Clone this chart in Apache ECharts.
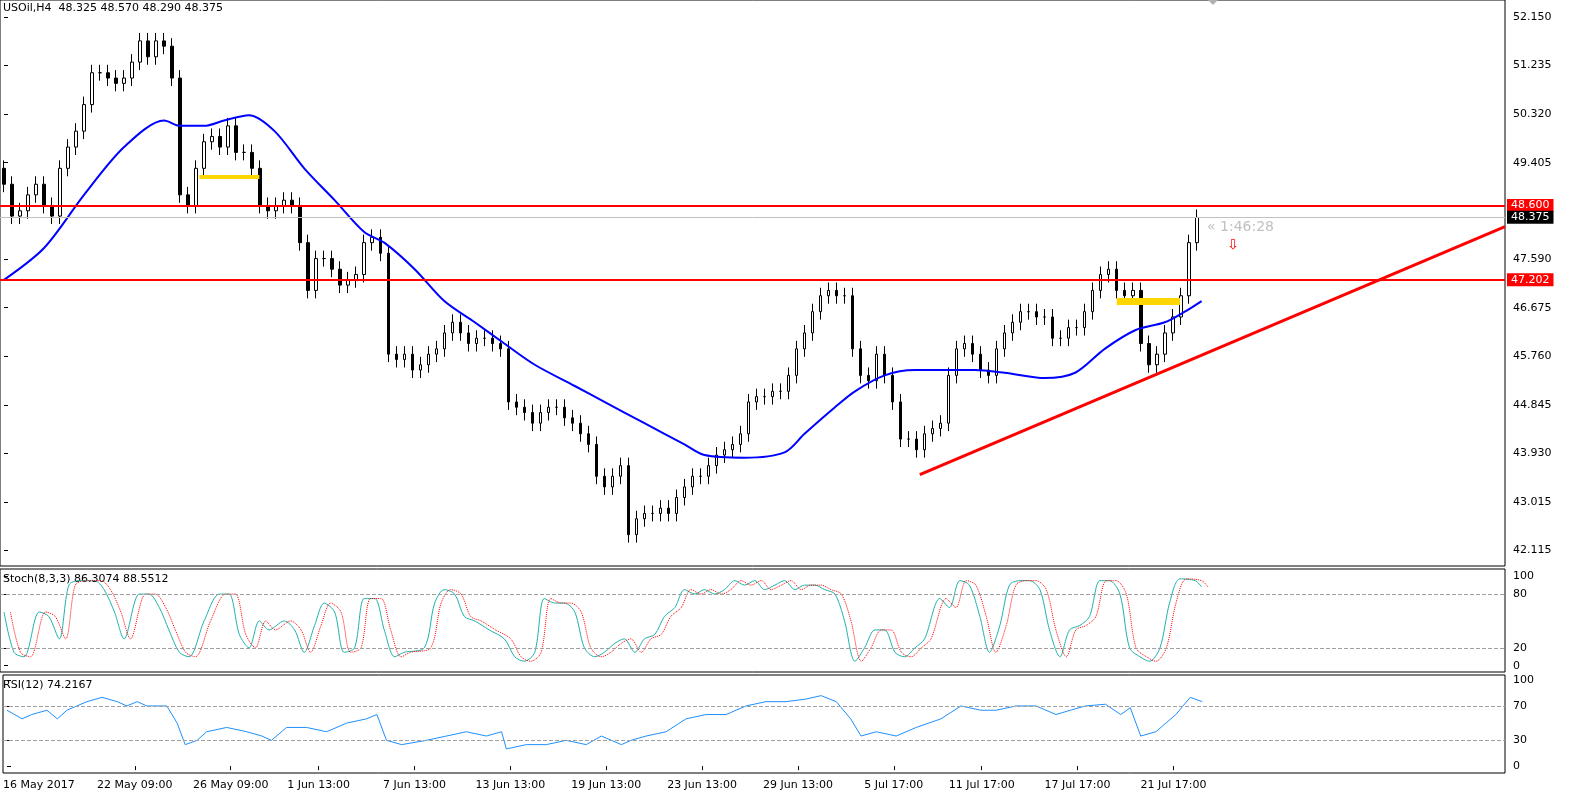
<!DOCTYPE html>
<html><head><meta charset="utf-8">
<script src="https://cdn.jsdelivr.net/npm/echarts@6/dist/echarts.min.js"></script>
<style>html,body{margin:0;padding:0;background:#fff}#c{width:1588px;height:806px}</style>
</head><body><div id="c"></div>
<script>
// closes read bar by bar (H4), last bar is current
var closes = [49.0,48.4,48.5,48.8,49.0,48.6,48.4,49.3,49.7,50.0,50.5,51.1,51.1,51.0,50.9,51.0,51.3,51.7,51.4,51.7,
  51.6,51.0,48.8,48.6,49.3,49.8,49.9,49.7,50.1,49.6,49.6,49.3,48.6,48.5,48.6,48.7,48.6,47.9,47.0,47.6,
  47.6,47.4,47.1,47.2,47.3,47.9,48.0,47.7,45.8,45.7,45.8,45.5,45.6,45.8,45.9,46.2,46.4,46.2,46.0,46.1,
  46.1,46.0,45.9,44.9,44.8,44.7,44.5,44.7,44.8,44.8,44.6,44.5,44.3,44.1,43.5,43.3,43.5,43.7,42.4,42.7,
  42.8,42.8,42.9,42.8,43.1,43.3,43.5,43.5,43.7,43.9,44.0,44.1,44.3,44.9,45.0,45.0,45.1,45.1,45.4,45.9,
  46.2,46.6,46.9,47.0,46.9,46.9,45.9,45.4,45.3,45.8,45.4,44.9,44.2,44.2,44.0,44.3,44.4,44.5,45.4,45.9,
  46.0,45.8,45.5,45.4,45.9,46.2,46.4,46.6,46.6,46.5,46.5,46.1,46.1,46.3,46.3,46.6,47.0,47.3,47.4,47.0,
  46.9,47.0,46.0,45.6,45.8,46.2,46.5,46.9,47.9,48.375];
var firstOpen = 49.3;
var wick = 0.15;

// moving average, [bar, price]
var maLine = [[0,47.2],[5,47.8],[10,48.8],[15,49.7],[20,50.2],[22,50.1],[25,50.1],[27.5,50.2],[30.6,50.3],[33.8,50.0],
  [37.5,49.3],[41.3,48.7],[45,48.1],[47.5,47.9],[51.3,47.4],[55,46.8],[58.8,46.4],[62.5,46.0],[66.3,45.6],[71.3,45.2],
  [75,44.9],[80,44.5],[85,44.1],[87.5,43.9],[92.5,43.85],[97.5,43.95],[100,44.3],[103.8,44.8],[106.3,45.1],[110,45.4],
  [113.8,45.5],[117.5,45.5],[121.3,45.5],[125,45.45],[130,45.35],[133.8,45.45],[137.5,45.9],[141.3,46.25],[145,46.4],
  [147.5,46.6],[149.6,46.8]];

var stochK = [[0,60],[1.25,15],[2.5,10],[4.4,60],[5.6,55],[6.9,30],[8.1,90],[9.4,95],[11.3,95],[12.5,85],[13.8,60],[15,30],
  [16.9,80],[18.1,80],[19.4,65],[20.6,40],[21.9,15],[23.1,10],[25,50],[26.9,80],[28.1,80],[29.4,35],[30.6,20],[31.9,50],
  [33.1,40],[35,50],[36.3,40],[37.5,15],[38.8,45],[40,70],[41.3,60],[42.5,15],[43.8,20],[45,75],[46.3,75],[47.5,40],
  [48.8,10],[50,15],[52.5,20],[53.8,70],[55,85],[56.3,80],[57.5,55],[58.8,50],[60.6,40],[62.5,30],[63.8,10],[65,5],
  [66.3,15],[67.5,75],[68.8,70],[70,70],[71.3,60],[72.5,20],[73.8,10],[75,15],[76.3,25],[77.5,30],[78.8,15],[80,30],
  [81.3,35],[82.5,55],[83.8,65],[85,85],[86.3,80],[87.5,85],[88.8,80],[90,85],[91.3,95],[92.5,90],[93.8,95],[95,85],
  [96.3,90],[97.5,95],[98.8,85],[100,90],[101.3,90],[102.5,85],[103.8,80],[105,50],[106.3,5],[107.5,20],[108.8,40],
  [110,40],[111.3,15],[112.5,10],[113.8,20],[115,30],[116.9,75],[118.1,65],[119.4,95],[120.6,90],[121.9,55],[123.1,15],
  [124.4,45],[125.6,90],[126.9,95],[128.1,95],[129.4,85],[130.6,40],[131.9,10],[133.1,40],[134.4,45],[135.6,55],
  [136.9,95],[138.1,95],[139.4,80],[140.6,20],[141.9,10],[143.1,5],[144.4,20],[145.6,70],[146.9,97],[148.8,95],[149.6,88]];

var rsi = [[0,65],[1.9,55],[3.1,60],[5,65],[6.3,55],[7.5,65],[10,75],[11.9,80],[13.8,75],[15,70],[16.3,75],[17.5,70],
  [20,70],[21.3,50],[22.3,25],[23.8,30],[25,40],[27.5,45],[30,40],[31.9,35],[33.1,30],[35,45],[37.5,45],[40,40],
  [42.5,50],[45,55],[46.3,60],[47.5,30],[49.4,25],[52.5,30],[55,35],[57.5,40],[60,35],[61.9,40],[62.5,20],[65,25],
  [67.5,25],[70,30],[72.5,25],[74.4,35],[76.9,25],[78.1,30],[80,35],[82.5,40],[85,55],[87.5,60],[90,60],[92.5,70],
  [95,75],[97.5,75],[100,78],[101.9,82],[103.8,75],[105.6,55],[106.9,35],[108.8,40],[111.3,35],[113.8,45],[116.9,55],
  [119.4,70],[121.9,65],[123.8,65],[126.3,70],[128.8,70],[131.3,60],[133.1,65],[135,70],[137.5,72],[139.4,60],
  [140.6,68],[141.9,35],[143.8,40],[146.3,60],[148.1,80],[149.6,75]];

var priceTicks = [52.150,51.235,50.320,49.405,47.590,46.675,45.760,44.845,43.930,43.015,42.115];
var dateTicks = [-0.5,16,28,39,51,63,75,87,99,111,122,134,146];
var dateLabels = ['16 May 2017','22 May 09:00','26 May 09:00','1 Jun 13:00','7 Jun 13:00','13 Jun 13:00',
  '19 Jun 13:00','23 Jun 13:00','29 Jun 13:00','5 Jul 17:00','11 Jul 17:00','17 Jul 17:00','21 Jul 17:00'];
var levels = [48.600, 47.202];
var currentPrice = 48.375;
var trendLine = [[114.4,43.53],[187.5,48.2]];
var zones = [[24.4,31.9,49.15,4],[139,146.9,46.8,7]];

var slots = 188;
var cats = [];
for (var i = 0; i < slots; i++) cats.push(String(i));
var candles = closes.map(function(c, i) {
  var o = i === 0 ? firstOpen : closes[i-1];
  return [o, c, Math.min(o,c) - wick, Math.max(o,c) + wick];
});
var stochD = stochK.map(function(p){ return [p[0] + 0.8, p[1]]; });

var font = 'DejaVu Sans';
var txt = {fontFamily: font, fontSize: 11, color: '#000'};
var vx = function(grid, show) {
  return {type:'value', gridIndex:grid, min:-0.5, max:slots-0.5, show:!!show,
    splitLine:{show:false}, axisLine:{show:false}, axisTick:{show:false}, axisLabel:{show:false}};
};
var rightAxis = function(grid, min, max, vals) {
  return {type:'value', gridIndex:grid, position:'right', min:min, max:max,
    axisLine:{show:false}, splitLine:{show:false},
    axisTick:{show:true, length:4, lineStyle:{color:'#000'}, customValues:vals},
    axisLabel:Object.assign({customValues:vals, margin:8,
      formatter:function(v){ return grid === 0 ? v.toFixed(3) : String(Math.round(v)); }}, txt)};
};

var mainLines = levels.map(function(l){
  return {yAxis:l, lineStyle:{color:'#ff0000', width:2, type:'solid'},
    label:{show:true, position:'end', formatter:l.toFixed(3), backgroundColor:'#ff0000', color:'#fff',
      fontFamily:font, fontSize:11, padding:[1,4], distance:2}};
});
mainLines.push({yAxis:currentPrice, lineStyle:{color:'#c0c0c0', width:1, type:'solid'},
  label:{show:true, position:'end', formatter:currentPrice.toFixed(3), backgroundColor:'#000', color:'#fff',
    fontFamily:font, fontSize:11, padding:[1,4], distance:2}});

var overlayLines = [
  [{coord:trendLine[0]}, {coord:trendLine[1], lineStyle:{color:'#ff0000', width:3, type:'solid'}}],
  [{coord:[177.5,48.6]}, {coord:[187.5,48.6], lineStyle:{color:'#ff0000', width:1, type:'dotted'}}]
];
zones.forEach(function(z){
  overlayLines.push([{coord:[z[0],z[2]]}, {coord:[z[1],z[2]], lineStyle:{color:'#ffd700', width:z[3], type:'solid'}}]);
});

var dashGuide = function(vals){
  return {symbol:'none', silent:true, label:{show:false},
    lineStyle:{color:'#a0a0a0', type:'dashed', width:1},
    data:vals.map(function(v){ return {yAxis:v}; })};
};

var option = {
  animation:false,
  backgroundColor:'#fff',
  grid:[
    {left:0, right:83, top:0, height:566, show:true, borderColor:'#000', borderWidth:1},
    {left:0, right:83, top:569, height:103, show:true, borderColor:'#000', borderWidth:1},
    {left:0, right:83, top:675, height:98, show:true, borderColor:'#000', borderWidth:1}
  ],
  xAxis:[
    {type:'category', gridIndex:0, data:cats, show:false, boundaryGap:true},
    vx(0), vx(1),
    {type:'value', gridIndex:2, min:-0.5, max:slots-0.5, splitLine:{show:false},
      axisLine:{show:false},
      axisTick:{show:true, length:4, lineStyle:{color:'#000'}, customValues:dateTicks.slice(1)},
      axisLabel:Object.assign({customValues:dateTicks, margin:7, alignMinLabel:'left',
        formatter:function(v){ var k = dateTicks.indexOf(v); return k >= 0 ? dateLabels[k] : ''; }}, txt)}
  ],
  yAxis:[
    rightAxis(0, 41.81, 52.47, priceTicks),
    rightAxis(1, -7, 108, [100,80,20,0]),
    rightAxis(2, -8, 106, [100,70,30,0])
  ],
  graphic:[
    {type:'text', left:3, top:3, style:{text:'USOil,H4  48.325 48.570 48.290 48.375', font:'11px '+font, fill:'#000'}},
    {type:'polygon', shape:{points:[[1208,0],[1218,0],[1213,5]]}, style:{fill:'#b0b0b0'}},
    {type:'text', left:1207, top:220, style:{text:'« 1:46:28', font:'14px '+font, fill:'#c0c0c0'}},
    {type:'text', left:1227, top:238, style:{text:'⇩', font:'14px '+font, fill:'#ff0000'}},
    {type:'text', left:3, top:574, style:{text:'Stoch(8,3,3) 86.3074 88.5512', font:'11px '+font, fill:'#000'}},
    {type:'text', left:3, top:680, style:{text:'RSI(12) 74.2167', font:'11px '+font, fill:'#000'}}
  ],
  series:[
    {type:'candlestick', xAxisIndex:0, yAxisIndex:0, data:candles, barWidth:3,
      itemStyle:{color:'#fff', color0:'#000', borderColor:'#000', borderColor0:'#000', borderWidth:1},
      markLine:{symbol:'none', silent:true, data:mainLines}},
    {type:'line', xAxisIndex:1, yAxisIndex:0, data:maLine, showSymbol:false, smooth:0.3,
      lineStyle:{color:'#0000ff', width:2},
      markLine:{symbol:'none', silent:true, label:{show:false}, data:overlayLines}},
    {type:'line', xAxisIndex:2, yAxisIndex:1, data:stochK, showSymbol:false, smooth:0.3,
      lineStyle:{color:'#20b2aa', width:1}, markLine:dashGuide([80,20])},
    {type:'line', xAxisIndex:2, yAxisIndex:1, data:stochD, showSymbol:false, smooth:0.3,
      lineStyle:{color:'#ff0000', width:1, type:'dotted'}},
    {type:'line', xAxisIndex:3, yAxisIndex:2, data:rsi, showSymbol:false,
      lineStyle:{color:'#1e90ff', width:1}, markLine:dashGuide([70,30])}
  ]
};
echarts.init(document.getElementById('c')).setOption(option);
</script></body></html>
